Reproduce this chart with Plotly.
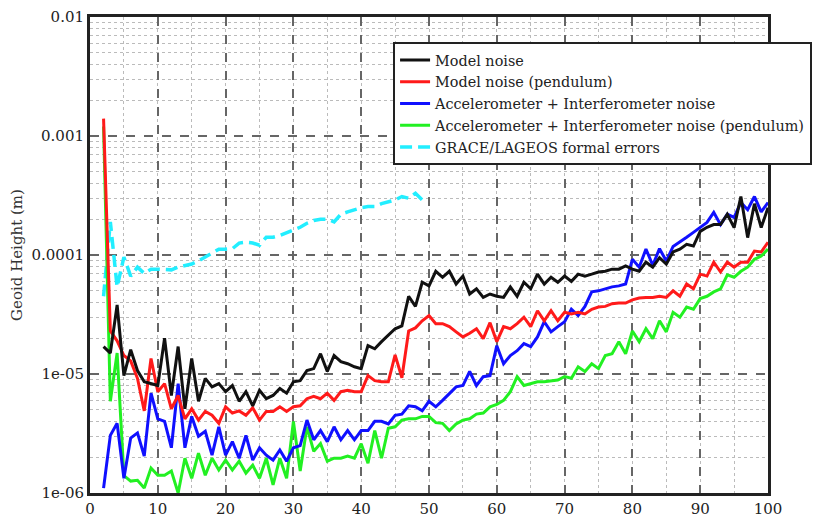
import plotly.graph_objects as go

# spherical harmonic degree
degree = list(range(2, 101))

model_noise = [
    1.7e-5, 1.5e-5, 3.8e-5, 9.7e-6, 1.6e-5, 1.07e-5, 8.6e-6, 8.3e-6, 8.0e-6,
    2.0e-5, 6.6e-6, 1.7e-5, 5.1e-6, 1.35e-5, 5.9e-6, 9.2e-6, 7.8e-6, 8.3e-6,
    7.1e-6, 8.0e-6, 5.9e-6, 7.1e-6, 5.4e-6, 7.3e-6, 6.2e-6, 6.6e-6, 7.55e-6,
    6.9e-6, 8.6e-6, 8.8e-6, 1.07e-5, 1.11e-5, 1.48e-5, 1.05e-5, 1.43e-5,
    1.27e-5, 1.22e-5, 1.15e-5, 1.11e-5, 1.73e-5, 1.63e-5, 1.87e-5, 2.1e-5,
    2.4e-5, 2.54e-5, 4.5e-5, 3.7e-5, 5.9e-5, 5.5e-5, 7.3e-5, 6.5e-5, 7.3e-5,
    5.7e-5, 6.65e-5, 4.7e-5, 5.2e-5, 4.4e-5, 4.7e-5, 4.5e-5, 4.4e-5, 5.4e-5,
    4.5e-5, 5.9e-5, 5.2e-5, 6.9e-5, 5.7e-5, 6.5e-5, 5.9e-5, 6.65e-5, 6.0e-5,
    6.9e-5, 6.65e-5, 6.9e-5, 7.2e-5, 7.3e-5, 7.6e-5, 7.6e-5, 8.1e-5, 7.6e-5,
    7.3e-5, 8.7e-5, 7.9e-5, 9.5e-5, 8.4e-5, 1.06e-4, 1.12e-4, 1.23e-4,
    1.19e-4, 1.58e-4, 1.71e-4, 1.8e-4, 1.8e-4, 2.2e-4, 1.7e-4, 3.1e-4,
    1.4e-4, 2.7e-4, 1.7e-4, 2.5e-4,
]

model_noise_pend = [
    1.4e-3, 2.3e-5, 1.9e-5, 1.43e-5, 1.29e-5, 9.2e-6, 4.9e-6, 1.35e-5, 7.1e-6,
    8.3e-6, 5.1e-6, 6.6e-6, 4.2e-6, 5.1e-6, 4.1e-6, 4.85e-6, 4.5e-6, 3.85e-6,
    5.3e-6, 4.7e-6, 4.9e-6, 4.5e-6, 5.2e-6, 4.1e-6, 4.85e-6, 4.85e-6, 5.3e-6,
    4.85e-6, 5.3e-6, 5.4e-6, 6.2e-6, 6.5e-6, 6.2e-6, 6.9e-6, 6.0e-6, 7.1e-6,
    7.3e-6, 7.1e-6, 7.1e-6, 9.7e-6, 8.8e-6, 8.6e-6, 8.6e-6, 1.45e-5, 9.3e-6,
    2.3e-5, 2.44e-5, 2.8e-5, 3.1e-5, 2.65e-5, 2.65e-5, 2.5e-5, 2.26e-5,
    2.05e-5, 2.2e-5, 2.4e-5, 1.98e-5, 2.7e-5, 1.87e-5, 2.5e-5, 2.4e-5,
    2.65e-5, 3.0e-5, 2.5e-5, 3.4e-5, 2.8e-5, 3.4e-5, 2.8e-5, 3.3e-5, 3.2e-5,
    3.3e-5, 3.2e-5, 3.5e-5, 3.65e-5, 3.7e-5, 3.9e-5, 3.95e-5, 3.95e-5,
    4.2e-5, 4.35e-5, 4.4e-5, 4.4e-5, 4.5e-5, 4.4e-5, 5.0e-5, 4.5e-5, 5.7e-5,
    5.2e-5, 6.9e-5, 6.65e-5, 8.7e-5, 7.2e-5, 8.7e-5, 7.9e-5, 8.7e-5, 8.7e-5,
    1.08e-4, 1.06e-4, 1.28e-4,
]

acc_ifo_noise = [
    1.1e-6, 3.05e-6, 3.85e-6, 1.33e-6, 2.9e-6, 3.2e-6, 2.04e-6, 6.9e-6, 4.2e-6,
    4.0e-6, 2.4e-6, 8.3e-6, 2.4e-6, 4.4e-6, 3.0e-6, 3.3e-6, 2.08e-6, 3.6e-6,
    2.08e-6, 2.7e-6, 1.96e-6, 3.05e-6, 1.89e-6, 2.4e-6, 2.08e-6, 1.89e-6,
    2.3e-6, 1.85e-6, 2.4e-6, 2.5e-6, 4.1e-6, 2.8e-6, 3.35e-6, 2.7e-6, 3.6e-6,
    2.8e-6, 3.35e-6, 2.8e-6, 3.35e-6, 3.35e-6, 4.0e-6, 4.0e-6, 3.8e-6, 4.5e-6,
    4.6e-6, 5.4e-6, 5.3e-6, 4.9e-6, 5.9e-6, 5.3e-6, 6.0e-6, 6.9e-6, 7.8e-6,
    8.0e-6, 1.05e-5, 8.0e-6, 9.5e-6, 9.7e-6, 1.73e-5, 1.22e-5, 1.43e-5,
    1.57e-5, 1.8e-5, 1.7e-5, 2.05e-5, 2.75e-5, 2.26e-5, 2.5e-5, 2.75e-5,
    3.5e-5, 3.1e-5, 3.7e-5, 4.9e-5, 5.0e-5, 5.2e-5, 5.4e-5, 5.5e-5, 5.7e-5,
    9.2e-5, 7.9e-5, 1.12e-4, 8.2e-5, 1.13e-4, 8.9e-5, 1.18e-4, 1.28e-4,
    1.41e-4, 1.55e-4, 1.71e-4, 1.88e-4, 2.28e-4, 1.8e-4, 2.2e-4, 2.07e-4,
    2.76e-4, 2.4e-4, 3.1e-4, 2.3e-4, 2.76e-4,
]

acc_ifo_noise_pend = [
    1.2e-3, 5.9e-6, 1.5e-5, 1.4e-6, 1.26e-6, 1.28e-6, 1.1e-6, 1.62e-6, 1.41e-6,
    1.41e-6, 1.53e-6, 1.0e-6, 1.96e-6, 1.33e-6, 2.16e-6, 1.41e-6, 1.96e-6,
    1.56e-6, 1.89e-6, 1.56e-6, 1.85e-6, 1.47e-6, 1.71e-6, 1.33e-6, 1.96e-6,
    1.17e-6, 1.96e-6, 1.33e-6, 4.0e-6, 1.53e-6, 3.6e-6, 2.24e-6, 2.6e-6,
    1.85e-6, 1.96e-6, 1.96e-6, 2.04e-6, 1.96e-6, 2.6e-6, 1.78e-6, 3.35e-6,
    1.96e-6, 3.5e-6, 3.6e-6, 4.1e-6, 4.2e-6, 4.2e-6, 4.4e-6, 4.4e-6, 3.9e-6,
    3.85e-6, 3.35e-6, 3.8e-6, 4.1e-6, 4.2e-6, 4.6e-6, 4.7e-6, 5.3e-6, 5.55e-6,
    6.0e-6, 7.1e-6, 9.5e-6, 8.0e-6, 8.3e-6, 8.6e-6, 8.6e-6, 8.8e-6, 8.9e-6,
    9.5e-6, 9.2e-6, 1.15e-5, 1.05e-5, 1.22e-5, 1.11e-5, 1.43e-5, 1.48e-5,
    1.87e-5, 1.48e-5, 2.3e-5, 1.87e-5, 2.4e-5, 1.98e-5, 2.8e-5, 2.26e-5,
    3.3e-5, 3.0e-5, 3.65e-5, 3.5e-5, 4.3e-5, 4.5e-5, 4.9e-5, 5.2e-5, 6.8e-5,
    6.5e-5, 7.3e-5, 7.9e-5, 9.2e-5, 9.8e-5, 1.12e-4,
]

grace_degree = list(range(2, 50))
grace_lageos = [
    4.5e-5, 1.9e-4, 5.4e-5, 9.6e-5, 6.65e-5, 7.9e-5, 7.0e-5, 7.6e-5, 7.6e-5,
    7.6e-5, 7.5e-5, 7.9e-5, 8.1e-5, 8.4e-5, 8.9e-5, 9.6e-5, 1.04e-4, 1.12e-4,
    1.12e-4, 1.13e-4, 1.26e-4, 1.28e-4, 1.26e-4, 1.21e-4, 1.41e-4, 1.41e-4,
    1.46e-4, 1.53e-4, 1.62e-4, 1.71e-4, 1.85e-4, 1.95e-4, 2.0e-4, 2.0e-4,
    1.9e-4, 2.2e-4, 2.3e-4, 2.4e-4, 2.5e-4, 2.55e-4, 2.55e-4, 2.7e-4, 2.8e-4,
    2.9e-4, 3.1e-4, 3.0e-4, 3.3e-4, 2.9e-4,
]

y_ticks = [1e-6, 1e-5, 1e-4, 1e-3, 1e-2]
y_ticktext = ["1e-06", "1e-05", "0.0001", "0.001", "0.01"]

serif = "DejaVu Serif"

fig = go.Figure()
fig.add_trace(go.Scatter(x=grace_degree, y=grace_lageos, mode="lines",
                         name="GRACE/LAGEOS formal errors", legendrank=5,
                         line=dict(color="#22eeff", width=3.5, dash="12px,6px")))
fig.add_trace(go.Scatter(x=degree, y=acc_ifo_noise_pend, mode="lines",
                         name="Accelerometer + Interferometer noise (pendulum)", legendrank=4,
                         line=dict(color="#22f022", width=3)))
fig.add_trace(go.Scatter(x=degree, y=acc_ifo_noise, mode="lines",
                         name="Accelerometer + Interferometer noise", legendrank=3,
                         line=dict(color="#1010ff", width=3)))
fig.add_trace(go.Scatter(x=degree, y=model_noise_pend, mode="lines",
                         name="Model noise (pendulum)", legendrank=2,
                         line=dict(color="#ff1a1a", width=3)))
fig.add_trace(go.Scatter(x=degree, y=model_noise, mode="lines",
                         name="Model noise", legendrank=1,
                         line=dict(color="#111111", width=3)))

# minor grid on the log axis: 2..9 within each decade
minor_y = [m * 10.0 ** e for e in range(-6, -2) for m in range(2, 10)]

fig.update_xaxes(
    range=[0, 100], tickvals=list(range(0, 101, 10)), automargin=False,
    showline=True, mirror=True, linecolor="#222", linewidth=3,
    showgrid=True, gridcolor="#666", gridwidth=1.5, griddash="dash",
    minor=dict(dtick=5, showgrid=True, gridcolor="#bbb", gridwidth=1, griddash="dot"),
    zeroline=False, ticks="", ticklabeloverflow="allow",
    tickfont=dict(family=serif, size=15, color="#222"),
)
fig.update_yaxes(
    type="log", range=[-6, -2], tickvals=y_ticks, ticktext=y_ticktext, automargin=False,
    showline=True, mirror=True, linecolor="#222", linewidth=3,
    showgrid=True, gridcolor="#666", gridwidth=1.5, griddash="dash",
    minor=dict(tickvals=minor_y, showgrid=True, gridcolor="#bbb", gridwidth=1, griddash="dot"),
    zeroline=False, ticks="", ticklabeloverflow="allow",
    tickfont=dict(family=serif, size=15, color="#222"),
    title=dict(text="Geoid Height (m)", font=dict(family=serif, size=15, color="#333"), standoff=6),
)

# the page body adds an 8px offset, so the figure is sized to the remaining window
fig.update_layout(
    width=821, height=509,
    margin=dict(l=82, r=61, t=9, b=24, autoexpand=False),
    plot_bgcolor="white", paper_bgcolor="white",
    font=dict(family=serif),
    legend=dict(x=0.447, y=0.947, xanchor="left", yanchor="top",
                bgcolor="white", bordercolor="#222", borderwidth=2,
                font=dict(family=serif, size=14.4, color="#222"),
                itemwidth=30, tracegroupgap=0),
)

fig.write_html("out.html")
